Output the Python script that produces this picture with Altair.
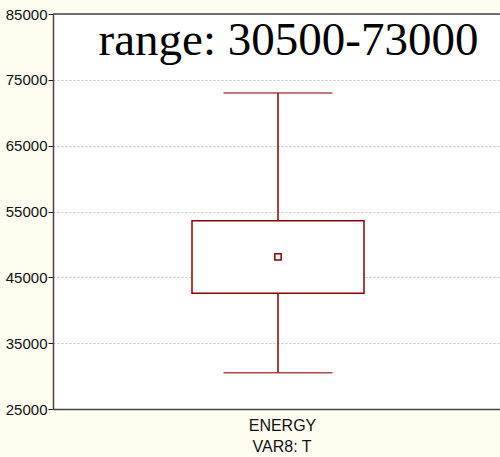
import altair as alt
import pandas as pd

categories = ["ENERGY"]
q1_vals = [42600]
q3_vals = [53600]
mean_vals = [48100]
min_vals = [30500]
max_vals = [73000]
title_text = "range: 30500-73000"
y_ticks = [25000, 35000, 45000, 55000, 65000, 75000, 85000]

df = pd.DataFrame({
    "cat": categories,
    "q1": q1_vals,
    "q3": q3_vals,
    "mean": mean_vals,
    "lo": min_vals,
    "hi": max_vals,
})

W, H = 447, 395
RED = "#8b0000"
FRAME = "#444444"
DX = 1.5
x_enc = alt.X("cat:N", title="VAR8: T",
              axis=alt.Axis(labelAngle=0, ticks=False, domain=True,
                            domainColor=FRAME, domainWidth=1.5,
                            labelFont="Liberation Sans", labelFontSize=16,
                            labelColor="#111", labelPadding=8, labelOffset=6,
                            titleFont="Liberation Sans", titleFontSize=16,
                            titleFontWeight="normal", titleColor="#111",
                            titlePadding=5, titleX=228.5))
y_scale = alt.Scale(domain=[25000, 85000], nice=False, zero=False)
y_axis = alt.Axis(values=y_ticks, format="d", title=None, domain=True,
                  domainColor=FRAME, domainWidth=1.5,
                  tickSize=5, tickColor="#222", labelFont="Liberation Sans",
                  labelFontSize=15, labelColor="#111", labelPadding=1,
                  gridDash=[2, 2], gridColor="#c4c4c4", gridWidth=1)

base = alt.Chart(df)

whisker = base.mark_rule(color=RED, strokeWidth=1.5, xOffset=DX).encode(
    x=x_enc,
    y=alt.Y("lo:Q", scale=y_scale, axis=y_axis),
    y2="hi:Q",
)
box = base.mark_bar(size=172, fill="white", stroke=RED, strokeWidth=1.5,
                    xOffset=DX).encode(
    x=x_enc,
    y=alt.Y("q1:Q", scale=y_scale),
    y2="q3:Q",
)
cap_hi = base.mark_tick(size=109, thickness=1.5, color=RED, orient="horizontal",
                        xOffset=DX).encode(
    x=x_enc, y=alt.Y("hi:Q", scale=y_scale))
cap_lo = base.mark_tick(size=109, thickness=1.5, color=RED, orient="horizontal",
                        xOffset=DX).encode(
    x=x_enc, y=alt.Y("lo:Q", scale=y_scale))
mean_pt = base.mark_point(shape="square", size=40, color=RED, strokeWidth=1.5,
                          filled=False, opacity=1, xOffset=DX).encode(
    x=x_enc, y=alt.Y("mean:Q", scale=y_scale))
top_frame = base.mark_rule(color=FRAME, strokeWidth=1.5).encode(
    x=alt.value(0), x2=alt.value(W), y=alt.value(0))
label = base.mark_text(font="Liberation Serif", fontSize=47, color="black",
                       align="center", baseline="alphabetic").encode(
    x=alt.value(235.5), y=alt.value(41), text=alt.value(title_text))

chart = alt.layer(whisker, box, cap_hi, cap_lo, mean_pt, top_frame, label).properties(
    width=W, height=H,
    background="#fffcf0",
    padding={"left": 53, "top": 14, "right": 0, "bottom": 48},
    autosize=alt.AutoSizeParams(type="none"),
).configure_view(
    fill="white", stroke=None
).configure_scale(bandPaddingInner=0, bandPaddingOuter=0)

chart.save("out.html", embed_options={"renderer": "svg", "actions": False})
